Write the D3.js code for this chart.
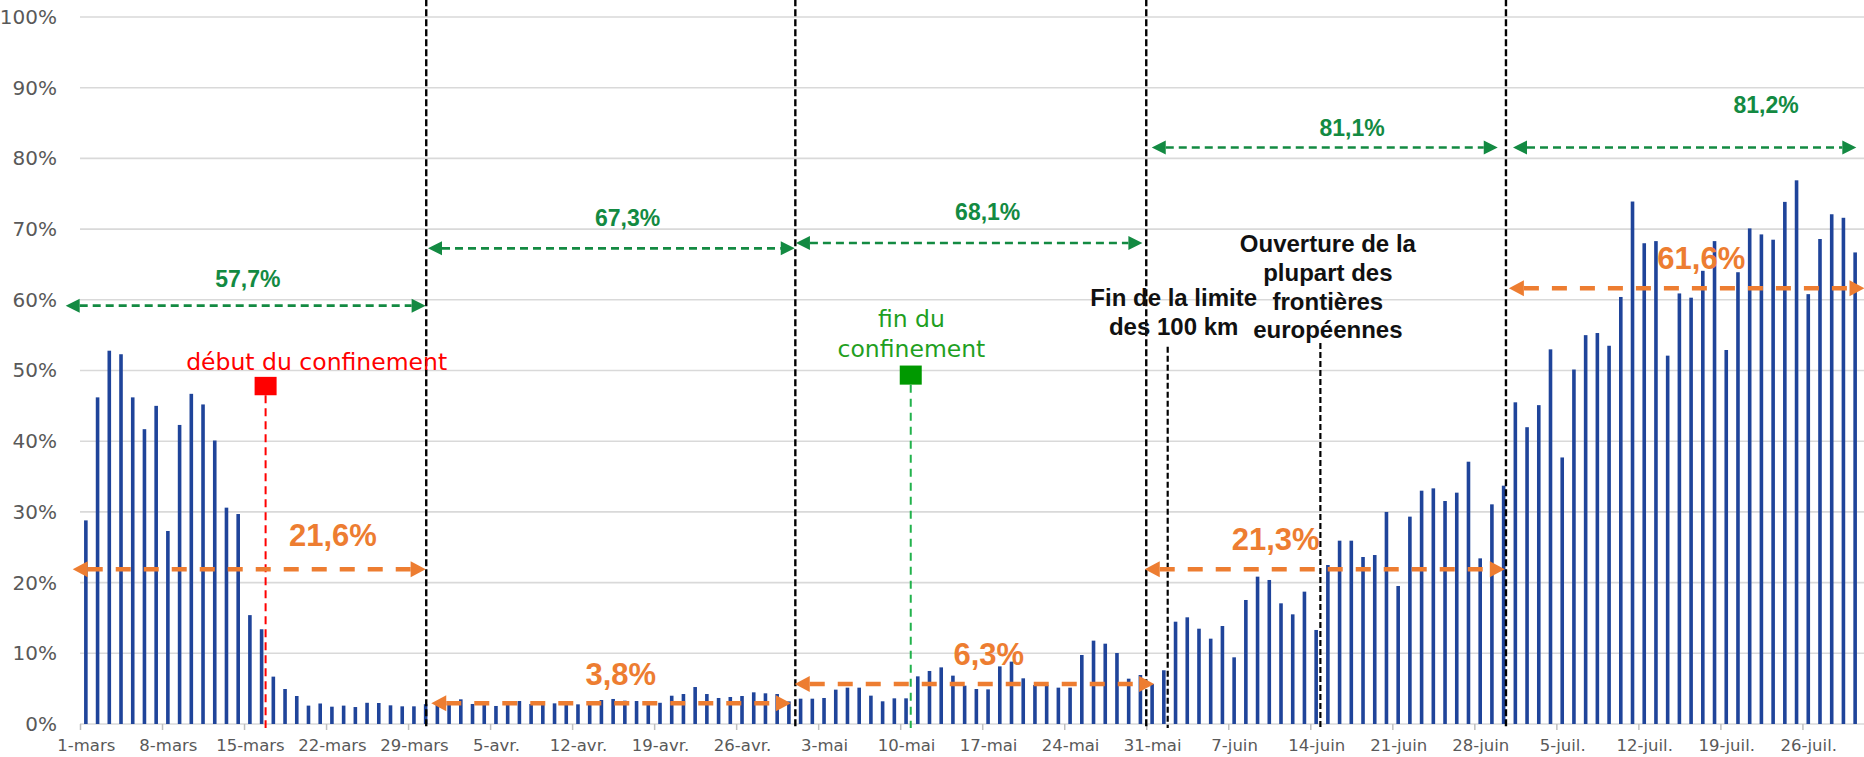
<!DOCTYPE html>
<html><head><meta charset="utf-8">
<script src="https://cdn.jsdelivr.net/npm/d3@7"></script>
<style>body{margin:0;background:#fff;} svg{display:block;}</style>
</head><body>
<svg id="chart" width="1864" height="757"></svg>
<script>
// ---------- DATA ----------
const startDate = new Date(2020, 2, 1);   // 1-mars
const endDate = new Date(2020, 6, 31);    // exclusive -> last bar 30-juil.
const values = [
  28.8,46.2,52.8,52.3,46.2,41.7,45.0,27.3,42.3,46.7,45.2,40.1,30.6,29.7,15.4,13.4,
  6.7,4.95,3.96,2.6,2.9,2.45,2.6,2.4,3.0,2.97,2.64,2.5,2.5,2.8,
  3.0,3.16,3.49,2.83,3.0,2.55,3.0,3.25,2.83,2.92,2.92,2.92,2.78,3.16,3.39,3.54,3.30,3.25,3.11,3.0,
  4.0,4.24,5.23,4.24,3.68,3.82,3.96,4.48,4.34,4.24,3.2,3.58,
  3.58,3.68,4.86,5.14,5.14,4.01,3.21,3.63,3.63,6.74,7.50,8.01,6.84,5.42,4.95,4.90,8.15,8.82,6.46,5.52,
  5.52,5.14,5.14,9.76,11.79,11.36,10.04,6.41,6.93,5.66,
  7.6,14.47,15.09,13.48,12.07,13.86,9.43,17.54,20.84,20.37,17.07,15.51,18.72,13.30,22.49,25.93,25.93,
  23.62,23.90,29.99,19.52,29.33,33.0,33.33,31.54,32.72,37.1,23.43,31.07,33.71,
  45.5,41.98,45.1,52.99,37.7,50.14,55.0,55.3,53.5,60.4,73.9,68.0,68.3,52.1,60.9,60.3,64.1,68.3,52.9,
  63.9,70.1,69.25,68.5,73.85,76.9,60.8,68.6,72.1,71.6,66.7
];
const yTicks = [0,10,20,30,40,50,60,70,80,90,100];
const xTickIndex = [0,7,14,21,28,35,42,49,56,63,70,77,84,91,98,105,112,119,126,133,140,147];
const xTickLabels = ["1-mars","8-mars","15-mars","22-mars","29-mars","5-avr.","12-avr.","19-avr.","26-avr.",
  "3-mai","10-mai","17-mai","24-mai","31-mai","7-juin","14-juin","21-juin","28-juin",
  "5-juil.","12-juil.","19-juil.","26-juil."];
const greenAverages = ["57,7%","67,3%","68,1%","81,1%","81,2%"];
const orangeAverages = ["21,6%","3,8%","6,3%","21,3%","61,6%"];
const redEventText = ["début du confinement"];
const greenEventText = ["fin du","confinement"];
const km100Text = ["Fin de la limite","des 100 km"];
const bordersText = ["Ouverture de la","plupart des","frontières","européennes"];

// ---------- LAYOUT (positions in day units p and value units %) ----------
const phaseLines = [29.55, 61.05, 91.0, 121.7];
const greenLayout = [
  {p1:-1.22, p2:29.5,  v:59.17, lp:14.33,  lv:61.77},
  {p1:29.7,  p2:61.0,  v:67.28, lp:46.73,  lv:70.44},
  {p1:61.1,  p2:90.67, v:68.03, lp:77.47,  lv:71.29},
  {p1:91.47, p2:121.0, v:81.54, lp:108.57, lv:83.17},
  {p1:122.3, p2:151.6, v:81.54, lp:143.9,  lv:86.4}
];
const orangeLayout = [
  {p1:-0.62, p2:29.5,  v:21.88, lp:21.59,  lv:25.22},
  {p1:29.98, p2:60.67, v:2.93,  lp:46.16,  lv:5.52},
  {p1:61.0,  p2:91.67, v:5.66,  lp:77.56,  lv:8.35},
  {p1:90.87, p2:121.6, v:21.88, lp:102.05, lv:24.6},
  {p1:121.95,p2:152.3, v:61.64, lp:138.37, lv:64.36}
];

// ---------- SCALES ----------
const svg = d3.select('#chart');
const W = 1864, H = 757;
const days = d3.timeDay.range(startDate, endDate);
const x = d3.scaleBand().domain(days).range([80, 1861]).padding(0);
const xp = d3.scaleLinear().domain([0, days.length]).range([80, 1861]);
const y = d3.scaleLinear().domain([0, 100]).range([724, 17]);

const regFont = "'DejaVu Sans', sans-serif";
const boldFont = "'Liberation Sans', Arial, sans-serif";

// gridlines
svg.append('g').selectAll('line').data(yTicks).join('line')
  .attr('x1', 80).attr('x2', W)
  .attr('y1', d => y(d)).attr('y2', d => y(d))
  .attr('stroke', '#d9d9d9').attr('stroke-width', 1.6);

// y axis labels
const yAxis = svg.append('g').attr('transform', 'translate(80,0)')
  .call(d3.axisLeft(y).tickValues(yTicks).tickFormat(d => d + '%').tickSize(0).tickPadding(23));
yAxis.select('.domain').remove();
yAxis.selectAll('text').attr('font-family', regFont).attr('font-size', 20).attr('fill', '#595959');

// x tick marks
const xTicksG = svg.append('g').attr('transform', `translate(0,${y(0)})`)
  .call(d3.axisBottom(xp).tickValues(xTickIndex).tickSize(6).tickFormat(''));
xTicksG.select('.domain').remove();
xTicksG.selectAll('line').attr('stroke', '#bfbfbf').attr('stroke-width', 1.5);

// x labels
const xLab = svg.append('g').attr('transform', `translate(0,${y(0)})`)
  .call(d3.axisBottom(xp).tickValues(xTickIndex.map(i => i + 0.5))
    .tickFormat((d, i) => xTickLabels[i]).tickSize(0).tickPadding(15));
xLab.select('.domain').remove();
xLab.selectAll('text').attr('font-family', regFont).attr('font-size', 16.5).attr('fill', '#595959');

// bars
const barW = 3.6;
svg.append('g').selectAll('rect').data(days).join('rect')
  .attr('x', d => x(d) + x.bandwidth() / 2 - barW / 2)
  .attr('width', barW)
  .attr('y', (d, i) => y(values[i]))
  .attr('height', (d, i) => y(0) - y(values[i]))
  .attr('fill', '#1f449a');

// phase separators (black dashed)
svg.append('g').selectAll('line').data(phaseLines).join('line')
  .attr('x1', d => xp(d)).attr('x2', d => xp(d))
  .attr('y1', y(102.5)).attr('y2', y(-0.57))
  .attr('stroke', '#000').attr('stroke-width', 2.4).attr('stroke-dasharray', '7,3');

// event lines (shorter black dashed)
const eventLines = [{p:92.83, top:53.37}, {p:105.86, top:53.9}];
svg.append('g').selectAll('line').data(eventLines).join('line')
  .attr('x1', d => xp(d.p)).attr('x2', d => xp(d.p))
  .attr('y1', d => y(d.top)).attr('y2', y(-0.57))
  .attr('stroke', '#000').attr('stroke-width', 2.2).attr('stroke-dasharray', '6,3');

// red & green markers
function marker(p, vTop, vBot, sqColor, lineColor, dash) {
  const cx = xp(p);
  svg.append('line').attr('x1', cx).attr('x2', cx).attr('y1', y(vBot)).attr('y2', y(-0.57))
    .attr('stroke', lineColor).attr('stroke-width', 2).attr('stroke-dasharray', dash);
  svg.append('rect').attr('x', cx - 11).attr('width', 22)
    .attr('y', y(vTop)).attr('height', y(vBot) - y(vTop)).attr('fill', sqColor);
}
marker(15.84, 49.1, 46.5, '#ff0000', '#ff0000', '8,5');
marker(70.9, 50.7, 48.0, '#009900', '#22b24c', '8,6');

// event texts
function textLines(lines, p, vs, font, size, weight, color) {
  lines.forEach((t, i) => {
    svg.append('text').attr('x', xp(p)).attr('y', y(vs[i]))
      .attr('text-anchor', 'middle').attr('font-family', font).attr('font-size', size)
      .attr('font-weight', weight).attr('fill', color).text(t);
  });
}
textLines(redEventText, 20.2, [50.07], regFont, 23.5, 'normal', '#ff0000');
textLines(greenEventText, 70.96, [56.15, 51.9], regFont, 23.5, 'normal', '#1fa01f');
textLines(km100Text, 93.34, [59.12, 55.0], boldFont, 24, 'bold', '#111');
textLines(bordersText, 106.5, [66.83, 62.69, 58.56, 54.65], boldFont, 24, 'bold', '#111');

// arrows
function arrow(x1, x2, yy, color, sw, dash, hl, hw) {
  const g = svg.append('g');
  g.append('line').attr('x1', x1 + hl).attr('x2', x2 - hl).attr('y1', yy).attr('y2', yy)
    .attr('stroke', color).attr('stroke-width', sw).attr('stroke-dasharray', dash);
  g.append('path').attr('d', `M${x1},${yy}L${x1 + hl},${yy - hw}L${x1 + hl},${yy + hw}Z`).attr('fill', color);
  g.append('path').attr('d', `M${x2},${yy}L${x2 - hl},${yy - hw}L${x2 - hl},${yy + hw}Z`).attr('fill', color);
}
const green = '#138a42', orange = '#ed7d31';
greenLayout.forEach((a, i) => {
  arrow(xp(a.p1), xp(a.p2), y(a.v), green, 2.6, '8,5', 14, 7);
  svg.append('text').attr('x', xp(a.lp)).attr('y', y(a.lv)).attr('text-anchor', 'middle')
    .attr('font-family', boldFont).attr('font-weight', 'bold').attr('font-size', 23)
    .attr('fill', green).text(greenAverages[i]);
});
orangeLayout.forEach((a, i) => {
  arrow(xp(a.p1), xp(a.p2), y(a.v), orange, 4.5, '15,13', 15, 8);
  svg.append('text').attr('x', xp(a.lp)).attr('y', y(a.lv)).attr('text-anchor', 'middle')
    .attr('font-family', boldFont).attr('font-weight', 'bold').attr('font-size', 31)
    .attr('fill', orange).text(orangeAverages[i]);
});
</script>
</body></html>
